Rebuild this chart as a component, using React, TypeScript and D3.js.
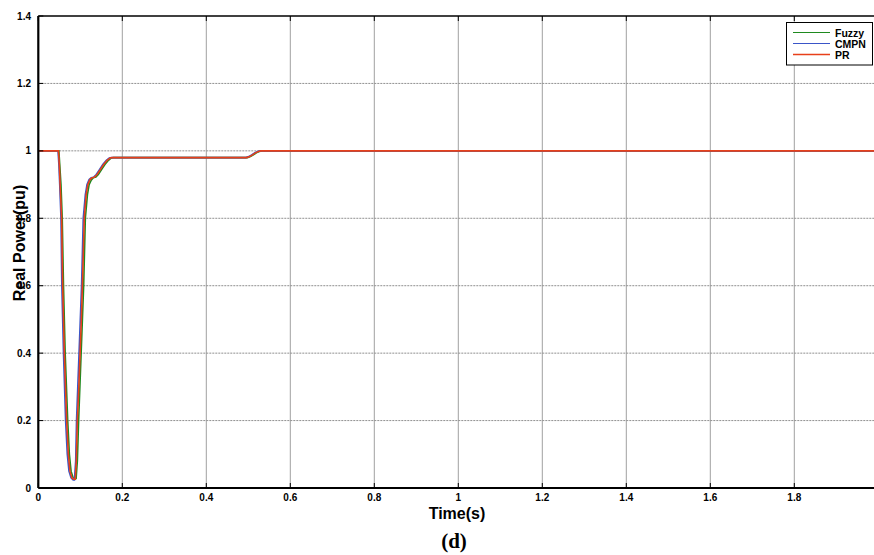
import React, { useEffect, useRef } from 'react';
import * as d3 from 'd3';

// series (time in s, real power in pu)
const fuzzyTime = [0, 0.049, 0.051, 0.054, 0.057, 0.06, 0.064, 0.07, 0.074, 0.078, 0.083, 0.087, 0.09, 0.093, 0.096, 0.099, 0.102, 0.105, 0.108, 0.112, 0.117, 0.121, 0.126, 0.131, 0.137, 0.143, 0.151, 0.159, 0.167, 0.174, 0.179, 0.498, 0.505, 0.512, 0.519, 0.526, 0.532, 2.0];
const fuzzyPower = [1, 1, 0.96, 0.9, 0.8, 0.6, 0.4, 0.2, 0.1, 0.05, 0.03, 0.028, 0.028, 0.08, 0.2, 0.3, 0.4, 0.5, 0.6, 0.8, 0.87, 0.9, 0.913, 0.92, 0.922, 0.93, 0.945, 0.96, 0.972, 0.979, 0.98, 0.98, 0.983, 0.988, 0.994, 0.998, 1, 1];

const cmpnTime = [0, 0.047, 0.049, 0.051, 0.054, 0.056, 0.06, 0.065, 0.069, 0.073, 0.078, 0.083, 0.086, 0.089, 0.091, 0.094, 0.097, 0.1, 0.103, 0.107, 0.112, 0.116, 0.121, 0.126, 0.132, 0.138, 0.146, 0.154, 0.162, 0.169, 0.174, 0.494, 0.501, 0.508, 0.515, 0.522, 0.528, 2.0];
const cmpnPower = [1, 1, 0.96, 0.9, 0.8, 0.6, 0.4, 0.2, 0.1, 0.05, 0.03, 0.024, 0.024, 0.08, 0.2, 0.3, 0.4, 0.5, 0.6, 0.8, 0.87, 0.9, 0.915, 0.92, 0.922, 0.93, 0.945, 0.96, 0.972, 0.979, 0.98, 0.98, 0.983, 0.988, 0.994, 0.998, 1, 1];

const prTime = [0, 0.048, 0.05, 0.052, 0.0555, 0.058, 0.062, 0.0675, 0.0715, 0.0755, 0.08, 0.085, 0.088, 0.0905, 0.093, 0.0965, 0.0995, 0.1025, 0.105, 0.1095, 0.114, 0.118, 0.123, 0.128, 0.134, 0.14, 0.148, 0.156, 0.164, 0.171, 0.176, 0.496, 0.503, 0.51, 0.517, 0.524, 0.53, 2.0];
const prPower = [1, 1, 0.96, 0.9, 0.8, 0.6, 0.4, 0.2, 0.1, 0.05, 0.03, 0.026, 0.026, 0.08, 0.2, 0.3, 0.4, 0.5, 0.6, 0.8, 0.87, 0.9, 0.915, 0.92, 0.922, 0.93, 0.945, 0.96, 0.972, 0.979, 0.98, 0.98, 0.983, 0.988, 0.994, 0.998, 1, 1];

const seriesNames = ['Fuzzy', 'CMPN', 'PR'];
const seriesColors = ['#1f8a1f', '#3a55c8', '#e8401a'];

const xTicks = [0, 0.2, 0.4, 0.6, 0.8, 1, 1.2, 1.4, 1.6, 1.8];
const yTicks = [0, 0.2, 0.4, 0.6, 0.8, 1, 1.2, 1.4];

const W = 874;
const H = 555;

export default function App() {
  const svgRef = useRef<SVGSVGElement>(null);

  useEffect(() => {
    const svg = d3.select(svgRef.current);
    svg.selectAll('*').remove();

    const left = 38.3, right = 878.3, top = 16, bottom = 488;
    const x = d3.scaleLinear().domain([0, 2]).range([left, right]);
    const y = d3.scaleLinear().domain([0, 1.4]).range([bottom, top]);
    const font = 'Liberation Sans, Arial, sans-serif';

    svg.append('defs').append('clipPath').attr('id', 'plot')
      .append('rect').attr('x', left).attr('y', top).attr('width', right - left).attr('height', bottom - top);

    // grid
    const grid = svg.append('g');
    grid.selectAll('line.v').data(xTicks.filter(d => d > 0)).enter().append('line')
      .attr('x1', d => x(d)).attr('x2', d => x(d)).attr('y1', top).attr('y2', bottom)
      .attr('stroke', '#a0a0a0').attr('stroke-width', 1);
    grid.selectAll('line.h').data(yTicks.filter(d => d > 0 && d < 1.4)).enter().append('line')
      .attr('x1', left).attr('x2', right).attr('y1', d => y(d)).attr('y2', d => y(d))
      .attr('stroke', '#909090').attr('stroke-width', 1).attr('stroke-dasharray', '2,1');

    // curves
    const series = [
      { t: fuzzyTime, p: fuzzyPower },
      { t: cmpnTime, p: cmpnPower },
      { t: prTime, p: prPower },
    ];
    const line = d3.line<[number, number]>().x(d => x(d[0])).y(d => y(d[1]));
    const curves = svg.append('g').attr('clip-path', 'url(#plot)');
    series.forEach((s, i) => {
      const pts = s.t.map((t, j) => [t, s.p[j]] as [number, number]);
      curves.append('path').datum(pts).attr('d', line)
        .attr('fill', 'none').attr('stroke', seriesColors[i]).attr('stroke-width', 1.6);
    });

    // frame and ticks
    const frame = svg.append('g').attr('stroke', '#000');
    frame.append('line').attr('x1', left).attr('x2', W).attr('y1', bottom).attr('y2', bottom).attr('stroke-width', 2.2);
    frame.append('line').attr('x1', left).attr('x2', left).attr('y1', top).attr('y2', bottom).attr('stroke-width', 2.2);
    frame.append('line').attr('x1', left).attr('x2', W).attr('y1', top).attr('y2', top).attr('stroke-width', 1.6);
    xTicks.forEach(d => {
      frame.append('line').attr('x1', x(d)).attr('x2', x(d)).attr('y1', bottom).attr('y2', bottom - 5).attr('stroke-width', 1);
      frame.append('line').attr('x1', x(d)).attr('x2', x(d)).attr('y1', top).attr('y2', top + 5).attr('stroke-width', 1);
    });
    yTicks.forEach(d => {
      frame.append('line').attr('x1', left).attr('x2', left + 5).attr('y1', y(d)).attr('y2', y(d)).attr('stroke-width', 1);
    });

    // tick labels
    svg.append('g').selectAll('text').data(xTicks).enter().append('text')
      .attr('x', d => x(d)).attr('y', 501).attr('text-anchor', 'middle')
      .attr('font-family', font).attr('font-weight', 'bold').attr('font-size', 10)
      .text(d => d3.format('~g')(d));
    svg.append('g').selectAll('text').data(yTicks).enter().append('text')
      .attr('x', 31).attr('y', d => y(d) + 3.5).attr('text-anchor', 'end')
      .attr('font-family', font).attr('font-weight', 'bold').attr('font-size', 10)
      .text(d => d3.format('~g')(d));

    // titles
    svg.append('text').attr('x', 457).attr('y', 519).attr('text-anchor', 'middle')
      .attr('font-family', font).attr('font-weight', 'bold').attr('font-size', 16).text('Time(s)');
    svg.append('text').attr('transform', 'translate(25,243) rotate(-90)').attr('text-anchor', 'middle')
      .attr('font-family', font).attr('font-weight', 'bold').attr('font-size', 16).text('Real Power(pu)');
    svg.append('text').attr('x', 454).attr('y', 548).attr('text-anchor', 'middle')
      .attr('font-family', 'Liberation Serif, Times New Roman, serif').attr('font-weight', 'bold').attr('font-size', 21).text('(d)');

    // legend
    const lg = svg.append('g');
    lg.append('rect').attr('x', 786.5).attr('y', 22.5).attr('width', 86).attr('height', 42.5)
      .attr('fill', '#fff').attr('stroke', '#000').attr('stroke-width', 1);
    seriesNames.forEach((name, i) => {
      const yy = 32.5 + i * 11;
      lg.append('line').attr('x1', 793).attr('x2', 830).attr('y1', yy).attr('y2', yy)
        .attr('stroke', seriesColors[i]).attr('stroke-width', i === 2 ? 1.6 : 1);
      lg.append('text').attr('x', 835).attr('y', yy + 4).attr('font-family', font)
        .attr('font-weight', 'bold').attr('font-size', 10.5).text(name);
    });
  }, []);

  return (
    <svg ref={svgRef} width={W} height={H}
      style={{ position: 'absolute', left: 0, top: 0, background: '#fff' }} />
  );
}
